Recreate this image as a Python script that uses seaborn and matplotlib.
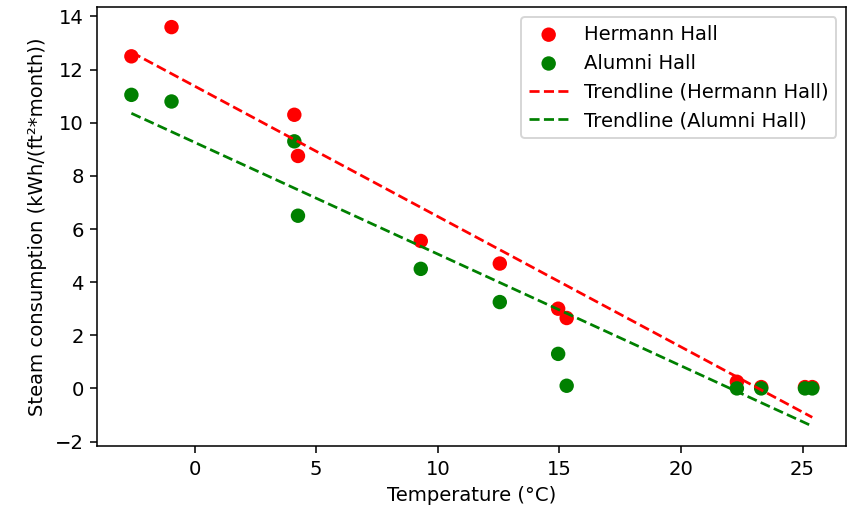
import numpy as np
import pandas as pd
import matplotlib
matplotlib.use("Agg")
import matplotlib.pyplot as plt
import seaborn as sns

# Monthly mean outdoor temperature (°C)
temperature = [-2.6, -0.95, 4.1, 4.25, 9.3, 12.55, 14.95, 15.3, 22.3, 23.3, 25.1, 25.4]
# Steam consumption, kWh/(ft²*month)
hermann = [12.5, 13.6, 10.3, 8.75, 5.55, 4.7, 3.0, 2.65, 0.25, 0.05, 0.05, 0.05]
alumni = [11.05, 10.8, 9.3, 6.5, 4.5, 3.25, 1.3, 0.1, 0.0, 0.0, 0.0, 0.0]

df = pd.DataFrame({"temp": temperature, "hermann": hermann, "alumni": alumni})

plt.rcParams["font.size"] = 10.1
fig = plt.figure(figsize=(6.1, 3.65), dpi=140)
ax = fig.add_axes([0.114, 0.127, 0.877, 0.859])

sns.scatterplot(data=df, x="temp", y="hermann", color="red", s=55,
                edgecolor="none", label="Hermann Hall", ax=ax)
sns.scatterplot(data=df, x="temp", y="alumni", color="green", s=55,
                edgecolor="none", label="Alumni Hall", ax=ax)

# Linear least-squares trendlines
t = np.array(temperature)
for series, color, name in [(hermann, "red", "Hermann Hall"), (alumni, "green", "Alumni Hall")]:
    slope, intercept = np.polyfit(t, np.array(series), 1)
    ax.plot(t, slope * t + intercept, linestyle="--", color=color, lw=1.4,
            label=f"Trendline ({name})")

ax.set_xlabel("Temperature (°C)")
ax.set_ylabel("Steam consumption (kWh/(ft²*month))")
ax.set_xticks([0, 5, 10, 15, 20, 25])
ax.set_yticks([-2, 0, 2, 4, 6, 8, 10, 12, 14])
ax.legend(loc="upper right")

fig.savefig("out.png", dpi=140)
